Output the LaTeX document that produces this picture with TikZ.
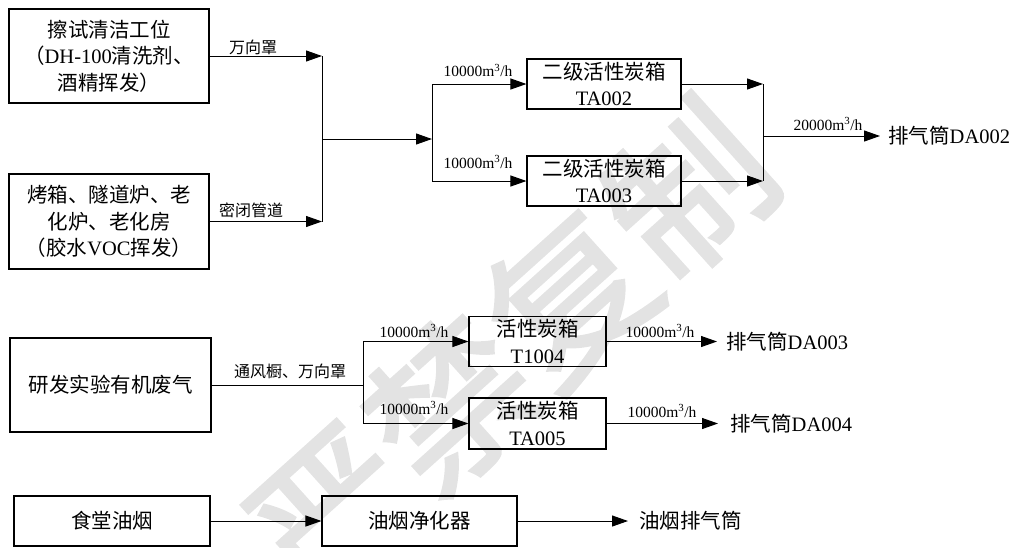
\documentclass[tikz,border=0pt]{standalone}
\usepackage{fontspec}
\setmainfont{Liberation Serif}
\newfontfamily\cjk{Noto Sans CJK SC}
\newfontfamily\wmfont[FakeBold=2]{Noto Sans CJK SC}
\usetikzlibrary{arrows.meta}
\newcommand\zh[1]{{\cjk #1}}
\begin{document}
\begin{tikzpicture}[x=1pt,y=-1pt,
  box/.style={draw,line width=1.1pt,inner sep=0pt,align=center,font=\fontsize{20.5}{26.5}\selectfont},
  ln/.style={line width=1pt},
  arr/.style={line width=1pt,-{Triangle[length=16pt,width=11pt]}},
  lbl/.style={font=\fontsize{15.5}{18}\selectfont,inner sep=0pt,anchor=base},
  zlbl/.style={font=\cjk\fontsize{16}{18}\selectfont,inner sep=0pt},
  outtxt/.style={font=\fontsize{20.5}{24}\selectfont,inner sep=0pt,anchor=base west},
  wmark/.style={rotate=42,text=black!11,inner sep=0pt,font=\wmfont\fontsize{160}{160}\selectfont},
]
\useasboundingbox (0,0) rectangle (1016,547);

% watermark
\node[wmark] (wm) at (510,350) {严禁复制};

% ---------- group 1 ----------
\node[box,minimum width=200pt,minimum height=94pt] (b1) at (109,56)
  {\zh{擦试清洁工位}\\\zh{（}DH-100\zh{清洗剂、}\\\zh{酒精挥发）}};
\node[box,minimum width=200pt,minimum height=95pt] (b2) at (109,221.5)
  {\zh{烤箱、隧道炉、老}\\\zh{化炉、老化房}\\\zh{（胶水}VOC\zh{挥发）}};

\coordinate (j1a) at (322,56);
\coordinate (j1b) at (322,221.5);
\coordinate (j1m) at (322,139);
\coordinate (j2m) at (432,139);
\coordinate (j2a) at (432,84);
\coordinate (j2b) at (432,181);

\draw[arr] (b1.east) -- (j1a);
\draw[arr] (b2.east) -- (j1b);
\draw[ln] (j1a) -- (j1b);
\draw[arr] (j1m) -- (j2m);
\draw[ln] (j2a) -- (j2b);

\node[zlbl] (l1) at (253,47) {万向罩};
\node[zlbl] (l2) at (251,210) {密闭管道};

\node[box,minimum width=154pt,minimum height=50pt] (ta2) at (604,84)
  {\zh{二级活性炭箱}\\TA002};
\node[box,minimum width=154pt,minimum height=50pt] (ta3) at (604,181)
  {\zh{二级活性炭箱}\\TA003};

\draw[arr] (j2a) -- (ta2.west);
\draw[arr] (j2b) -- (ta3.west);
\node[lbl] (l3) at (478,76.5) {10000m\textsuperscript{3}/h};
\node[lbl] (l4) at (478,168) {10000m\textsuperscript{3}/h};

\coordinate (j3a) at (763,84);
\coordinate (j3b) at (763,181);
\coordinate (j3m) at (763,136);
\coordinate (e2) at (880,136);
\draw[arr] (ta2.east) -- (j3a);
\draw[arr] (ta3.east) -- (j3b);
\draw[ln] (j3a) -- (j3b);
\draw[arr] (j3m) -- (e2);
\node[lbl] (l5) at (828,130) {20000m\textsuperscript{3}/h};
\node[outtxt] (d2) at (888,143) {\zh{排气筒}DA002};

% ---------- group 2 ----------
\node[box,minimum width=201pt,minimum height=94pt] (b3) at (110.5,385)
  {\zh{研发实验有机废气}};
\coordinate (j4m) at (363,385);
\coordinate (j4a) at (363,341.5);
\coordinate (j4b) at (363,423.5);
\draw[ln] (b3.east) -- (j4m);
\draw[ln] (j4a) -- (j4b);
\node[zlbl] (l6) at (290,371) {通风橱、万向罩};

\node[box,minimum width=137pt,minimum height=50pt] (t4) at (537.5,341.5)
  {\zh{活性炭箱}\\T1004};
\node[box,minimum width=137pt,minimum height=51pt] (t5) at (537.5,423.5)
  {\zh{活性炭箱}\\TA005};
\draw[arr] (j4a) -- (t4.west);
\draw[arr] (j4b) -- (t5.west);
\node[lbl] (l7) at (414,337) {10000m\textsuperscript{3}/h};
\node[lbl] (l8) at (414,414) {10000m\textsuperscript{3}/h};

\coordinate (e3) at (717,341.5);
\coordinate (e4) at (718,423.5);
\draw[arr] (t4.east) -- (e3);
\draw[arr] (t5.east) -- (e4);
\node[lbl] (l9) at (660,337) {10000m\textsuperscript{3}/h};
\node[lbl] (l10) at (662,417) {10000m\textsuperscript{3}/h};
\node[outtxt] (d3) at (726,349) {\zh{排气筒}DA003};
\node[outtxt] (d4) at (730,431) {\zh{排气筒}DA004};

% ---------- group 3 ----------
\node[box,minimum width=196pt,minimum height=50pt] (b5) at (112,521)
  {\zh{食堂油烟}};
\node[box,minimum width=195pt,minimum height=50pt] (b6) at (419.5,521)
  {\zh{油烟净化器}};
\draw[arr] (b5.east) -- (b6.west);
\coordinate (e5) at (628,521);
\draw[arr] (b6.east) -- (e5);
\node[outtxt,font=\cjk\fontsize{20.5}{24}\selectfont] (d5) at (639,528) {油烟排气筒};

\end{tikzpicture}
\end{document}
